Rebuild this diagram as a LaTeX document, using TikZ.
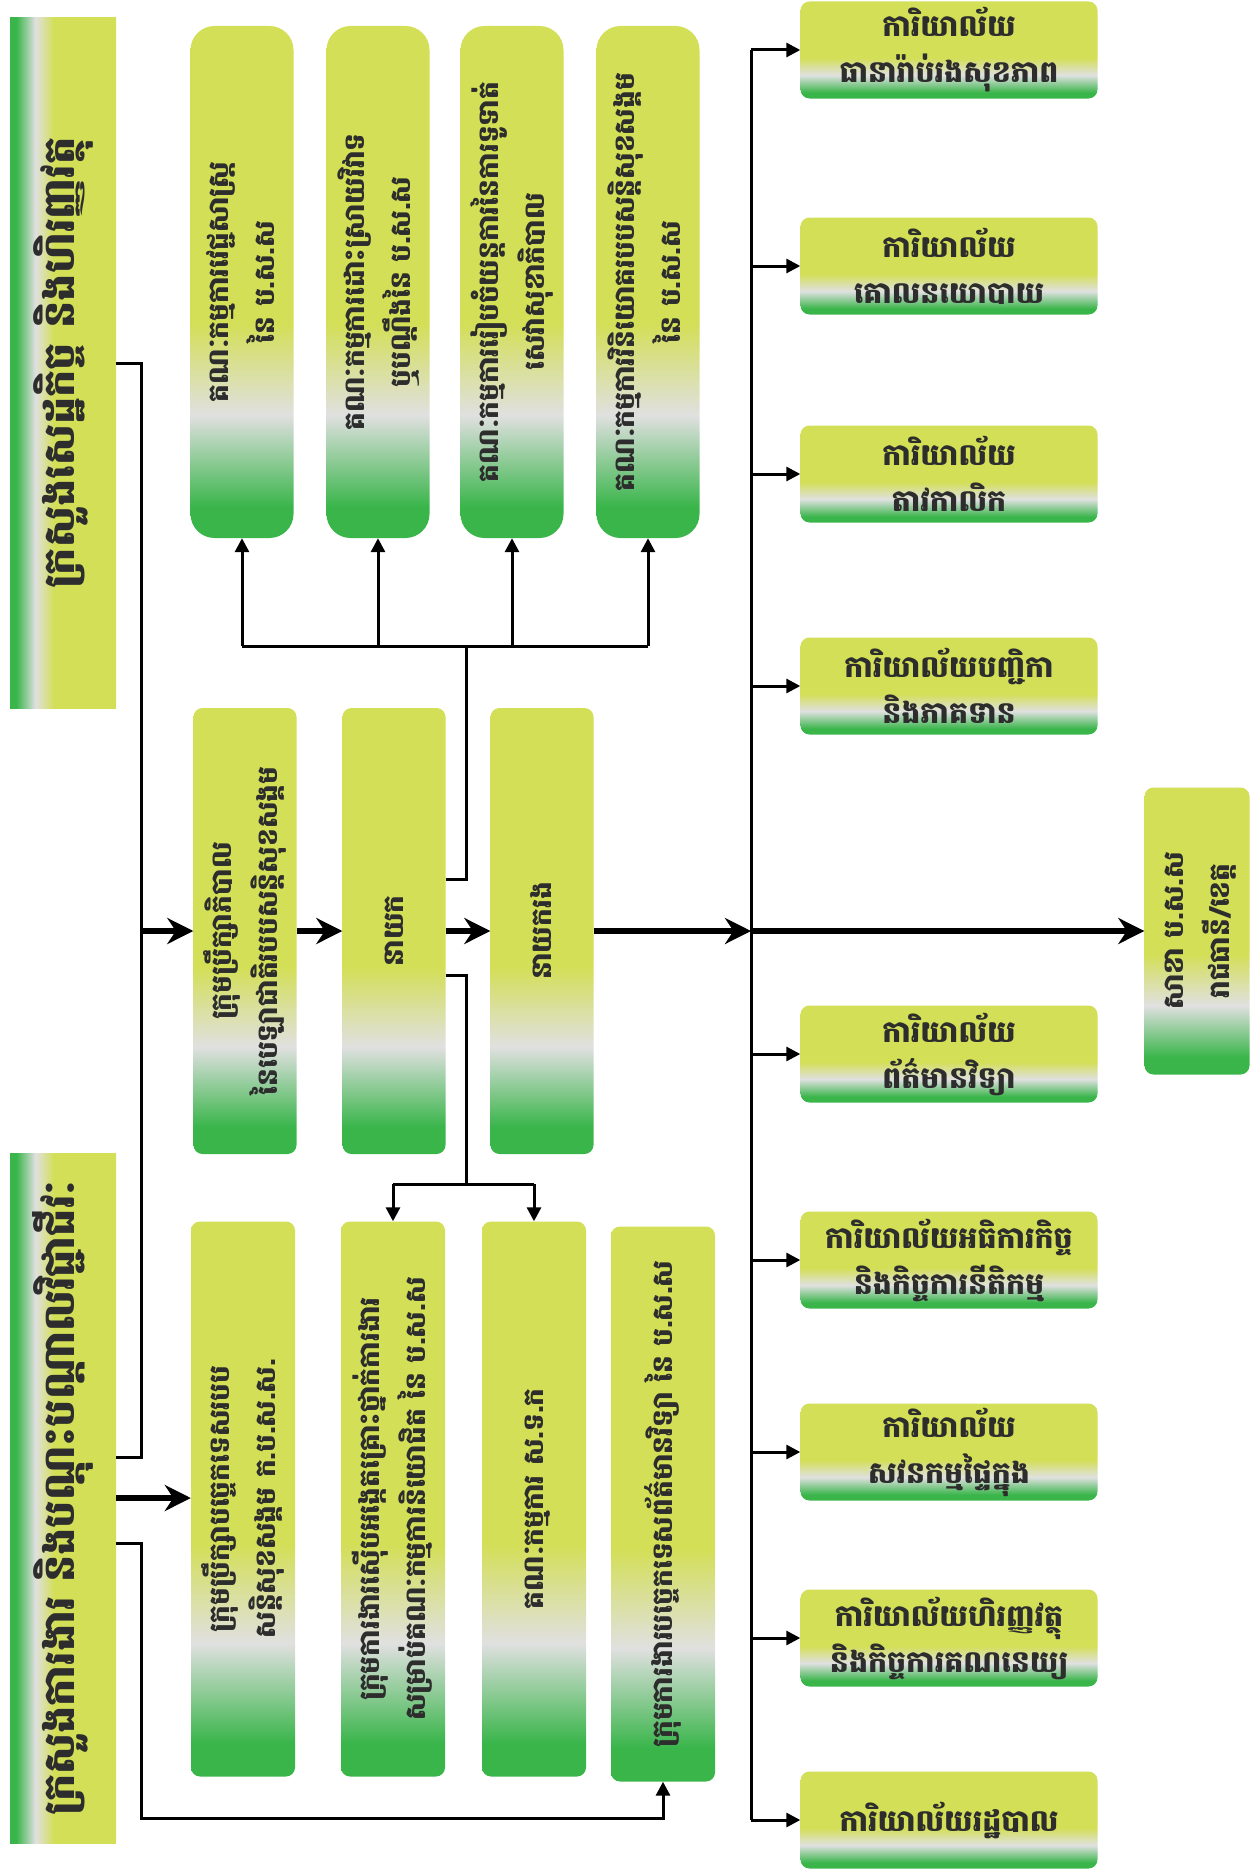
\documentclass[tikz,border=0pt]{standalone}
\usepackage{fontspec}
\usepackage{graphicx}
\usetikzlibrary{arrows.meta}
\newfontfamily\khmerfont[Script=Khmer]{Battambang}

\definecolor{kyellow}{RGB}{211,223,86}
\definecolor{kgreen}{RGB}{57,181,74}
\definecolor{kgrey}{RGB}{224,224,224}
\definecolor{ktext}{RGB}{45,45,45}
\pgfdeclareverticalshading{leafshade}{100bp}{color(0bp)=(kgreen); color(28bp)=(kgreen); color(37bp)=(kgrey); color(46bp)=(kyellow); color(100bp)=(kyellow)}

\newcommand{\uptext}[1]{\rotatebox{90}{\begin{tabular}{@{}c@{}}#1\end{tabular}}}

\tikzset{
  box/.style      = {shape=rectangle, shading=leafshade,
                     rounded corners=9pt, inner sep=0pt,
                     text=ktext, align=center,
                     font=\khmerfont\bfseries\fontsize{28}{46}\selectfont},
  ministry/.style = {box, rounded corners=0pt, shading angle=-90,
                     minimum width=106pt, minimum height=690pt,
                     font=\khmerfont\bfseries\fontsize{43}{56}\selectfont},
  cttee/.style    = {box, rounded corners=24pt,
                     minimum width=103pt, minimum height=512pt},
  mgmt/.style     = {box, minimum width=103pt, minimum height=446pt},
  unit/.style     = {box, minimum width=104pt, minimum height=555pt},
  office/.style   = {box, minimum width=297pt, minimum height=97pt,
                     font=\khmerfont\bfseries\fontsize{30}{46}\selectfont},
  link/.style     = {draw, line width=3pt},
  tip/.style      = {link, -{Triangle[length=14pt,width=14pt]}},
  mainline/.style = {draw, line width=5.5pt, -{Stealth[length=26pt,width=26pt]}}
}

\begin{document}
\begin{tikzpicture}[x=1pt, y=-1pt]
  \useasboundingbox (0,0) rectangle (1256,1876);

  % ministries
  \node [ministry] (mef)   at (63,363)  {\uptext{ក្រសួងសេដ្ឋកិច្ច និងហិរញ្ញវត្ថុ}};
  \node [ministry] (molvt) at (63,1498) {\uptext{ក្រសួងការងារ និងបណ្តុះបណ្តាលវិជ្ជាជីវៈ}};

  % committees
  \node [cttee] (med)  at (242,282) {\uptext{គណៈកម្មការវេជ្ជសាស្ត្រ\\នៃ ប.ស.ស}};
  \node [cttee] (disp) at (378,282) {\uptext{គណៈកម្មការដោះស្រាយវិវាទ\\ឬបណ្តឹងនៃ ប.ស.ស}};
  \node [cttee] (pay)  at (512,282) {\uptext{គណៈកម្មការរៀបចំយន្តការនៃការទូទាត់\\សេវាសុខាភិបាល}};
  \node [cttee] (inv)  at (648,282) {\uptext{គណៈកម្មការវិនិយោគរបបសន្តិសុខសង្គម\\នៃ ប.ស.ស}};

  % management
  \node [mgmt] (board) at (245,931) {\uptext{ក្រុមប្រឹក្សាភិបាល\\នៃបេឡាជាតិរបបសន្តិសុខសង្គម}};
  \node [mgmt] (dir)   at (394,931) {\uptext{នាយក}};
  \node [mgmt] (dep)   at (542,931) {\uptext{នាយករង}};

  % working groups
  \node [unit] (tech) at (243,1499) {\uptext{ក្រុមប្រឹក្សាបច្ចេកទេសរបប\\សន្តិសុខសង្គម ក.ប.ស.ស.}};
  \node [unit] (inq)  at (393,1499) {\uptext{ក្រុមការងារស៊ើបអង្កេតគ្រោះថ្នាក់ការងារ\\សម្រាប់គណៈកម្មការនិយោជិត នៃ ប.ស.ស}};
  \node [unit] (std)  at (534,1499) {\uptext{គណៈកម្មការ ស.ទ.ក}};
  \node [unit] (ict)  at (663,1504) {\uptext{ក្រុមការងារបច្ចេកទេសព័ត៌មានវិទ្យា នៃ ប.ស.ស}};

  % offices
  \node [office] (ohi)   at (949,50)   {ការិយាល័យ\\ធានារ៉ាប់រងសុខភាព};
  \node [office] (opol)  at (949,266)  {ការិយាល័យ\\គោលនយោបាយ};
  \node [office] (oact)  at (949,474)  {ការិយាល័យ\\តាវកាលិក};
  \node [office] (oreg)  at (949,686)  {ការិយាល័យបញ្ជិកា\\និងភាគទាន};
  \node [office] (oict)  at (949,1054) {ការិយាល័យ\\ព័ត៌មានវិទ្យា};
  \node [office] (oinsp) at (949,1260) {ការិយាល័យអធិការកិច្ច\\និងកិច្ចការនីតិកម្ម};
  \node [office] (oaud)  at (949,1452) {ការិយាល័យ\\សវនកម្មផ្ទៃក្នុង};
  \node [office] (ofin)  at (949,1638) {ការិយាល័យហិរញ្ញវត្ថុ\\និងកិច្ចការគណនេយ្យ};
  \node [office] (oadm)  at (949,1820) {ការិយាល័យរដ្ឋបាល};

  \node [box, minimum width=105pt, minimum height=287pt] (branch) at (1197,931)
        {\uptext{សាខា ប.ស.ស\\រាជធានី/ខេត្ត}};

  \coordinate (lbus)  at (141,931);
  \coordinate (rbus)  at (751,931);
  \coordinate (tbus)  at (466,646);
  \coordinate (bbus)  at (466,1184);
  \coordinate (lfoot) at (141,1818);

  % main flow
  \draw [link] (mef.east) -| (lbus);
  \draw [link] ([yshift=41pt]molvt.east) -| (lbus);
  \draw [mainline] (lbus) -- (board);
  \draw [mainline] (board) -- (dir);
  \draw [mainline] (dir) -- (dep);
  \draw [mainline] (dep) -- (rbus);
  \draw [mainline] (rbus) -- (branch);

  % offices
  \draw [link] (rbus |- ohi) -- (rbus |- oadm);
  \foreach \o in {ohi,opol,oact,oreg,oict,oinsp,oaud,ofin,oadm}
    \draw [tip] (rbus |- \o) -- (\o);

  % committees
  \draw [link] ([yshift=52pt]dir.east) -| (tbus);
  \draw [link] (med |- tbus) -- (inv |- tbus);
  \foreach \c in {med,disp,pay,inv}
    \draw [tip] (\c |- tbus) -- (\c.south);

  % working groups
  \draw [link] ([yshift=-44pt]dir.east) -| (bbus);
  \draw [link] (inq |- bbus) -- (std |- bbus);
  \foreach \c in {inq,std}
    \draw [tip] (\c |- bbus) -- (\c.north);
  \draw [mainline] (molvt.east) -- (molvt.east -| tech.west);
  \draw [tip] ([yshift=-45pt]molvt.east) -| (lfoot) -| (ict.south);
\end{tikzpicture}
\end{document}
